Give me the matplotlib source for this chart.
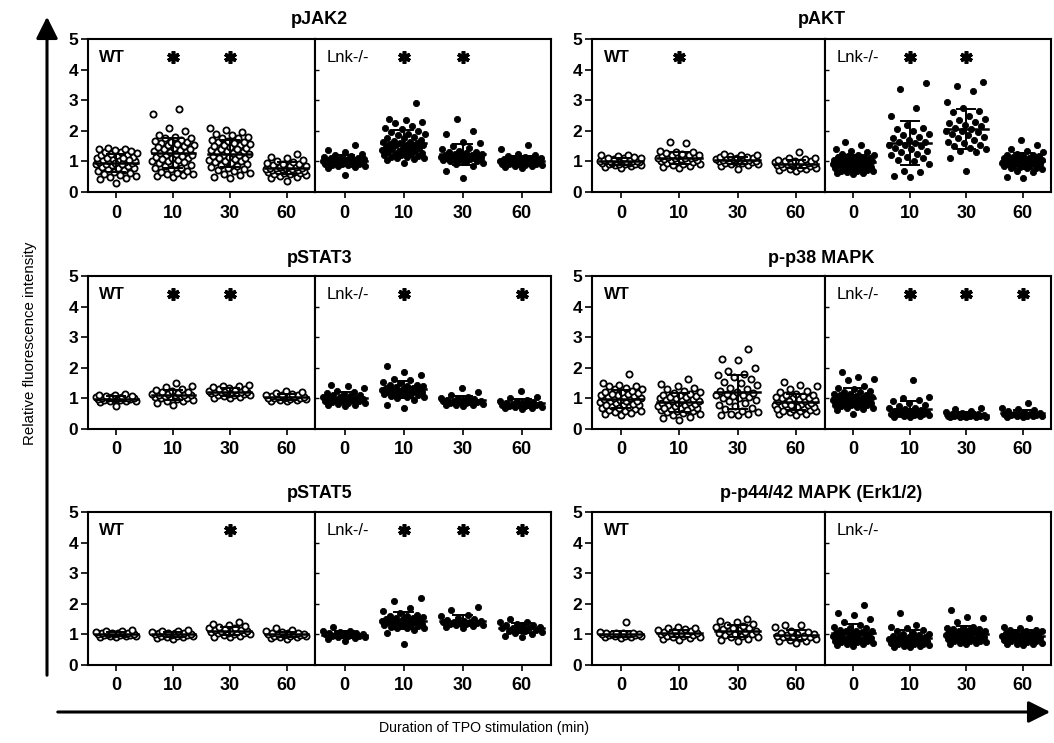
import numpy as np
import matplotlib
matplotlib.use("Agg")
import matplotlib.pyplot as plt
from matplotlib import font_manager
from matplotlib.patches import FancyArrowPatch

# ---------------- data ----------------
times = ["0", "10", "30", "60"]
genotypes = ["WT", "Lnk-/-"]
panel_titles = ["pJAK2", "pAKT", "pSTAT3", "p-p38 MAPK", "pSTAT5",
                "p-p44/42 MAPK (Erk1/2)"]

jak2_wt = [
    [0.30,0.42,0.45,0.48,0.52,0.55,0.60,0.62,0.66,0.70,0.72,0.75,0.78,0.80,0.83,0.85,0.88,0.90,0.92,0.95,0.97,1.00,1.02,1.05,1.08,1.10,1.12,1.15,1.18,1.20,1.22,1.25,1.28,1.30,1.32,1.35,1.38,1.40,1.42,1.45,1.02,0.98,1.05,0.95,1.10,0.90],
    [0.50,0.52,0.55,0.58,0.62,0.70,0.75,0.80,0.85,0.90,0.95,1.00,1.02,1.05,1.10,1.12,1.15,1.20,1.22,1.25,1.28,1.30,1.32,1.35,1.38,1.40,1.45,1.50,1.52,1.55,1.60,1.62,1.65,1.70,1.75,1.80,1.85,2.00,2.10,2.55,2.70,0.60,0.65,0.78,0.88,0.98,1.08,1.18,1.42,1.48,1.58,1.68,1.78],
    [0.45,0.48,0.55,0.62,0.68,0.72,0.78,0.82,0.88,0.92,0.95,1.00,1.02,1.05,1.08,1.12,1.15,1.18,1.22,1.25,1.28,1.30,1.32,1.35,1.38,1.42,1.45,1.48,1.52,1.55,1.58,1.62,1.65,1.70,1.75,1.80,1.85,1.90,1.95,2.02,2.10,0.58,0.75,0.85,0.98,1.10,1.20,1.40,1.50,1.60,1.68,1.78],
    [0.35,0.45,0.50,0.52,0.55,0.58,0.60,0.62,0.62,0.65,0.65,0.68,0.70,0.70,0.72,0.72,0.75,0.75,0.75,0.78,0.78,0.80,0.80,0.82,0.82,0.85,0.85,0.88,0.90,0.92,0.95,0.98,1.00,1.05,1.10,1.15,1.25],
]
jak2_ko = [
    [0.55,0.80,0.82,0.85,0.85,0.88,0.88,0.90,0.90,0.92,0.92,0.95,0.95,0.95,0.98,0.98,1.00,1.00,1.00,1.00,1.02,1.02,1.05,1.05,1.05,1.08,1.08,1.10,1.10,1.12,1.15,1.18,1.20,1.25,1.30,1.38,1.55],
    [0.95,1.05,1.10,1.12,1.15,1.18,1.20,1.22,1.25,1.28,1.30,1.32,1.35,1.38,1.40,1.42,1.45,1.48,1.50,1.52,1.55,1.58,1.60,1.62,1.65,1.70,1.75,1.80,1.85,1.90,1.95,2.00,2.05,2.15,2.25,2.30,2.35,2.40,2.90,1.08,1.15,1.25,1.35,1.45,1.52,1.60,1.68,1.78,1.88,2.10],
    [0.45,0.70,0.85,0.90,0.95,0.98,1.00,1.02,1.05,1.05,1.08,1.08,1.10,1.10,1.12,1.12,1.15,1.15,1.18,1.18,1.20,1.20,1.22,1.22,1.25,1.25,1.28,1.30,1.32,1.35,1.40,1.45,1.50,1.60,1.65,1.90,2.00,2.40],
    [0.80,0.82,0.85,0.85,0.88,0.88,0.90,0.90,0.92,0.92,0.95,0.95,0.98,0.98,1.00,1.00,1.00,1.02,1.02,1.05,1.05,1.08,1.08,1.10,1.10,1.12,1.15,1.18,1.20,1.25,1.40,1.55],
]
akt_wt = [
    [0.80,0.82,0.85,0.88,0.88,0.90,0.90,0.92,0.92,0.95,0.95,0.95,0.98,0.98,1.00,1.00,1.00,1.00,1.02,1.02,1.02,1.05,1.05,1.08,1.08,1.10,1.10,1.12,1.15,1.18,1.20,1.22],
    [0.80,0.82,0.85,0.88,0.90,0.92,0.95,0.98,1.00,1.00,1.02,1.05,1.05,1.08,1.08,1.10,1.10,1.12,1.12,1.15,1.15,1.18,1.18,1.20,1.20,1.22,1.25,1.28,1.30,1.32,1.35,1.60,1.65],
    [0.75,0.85,0.88,0.90,0.92,0.95,0.95,0.98,0.98,1.00,1.00,1.02,1.02,1.05,1.05,1.05,1.08,1.08,1.10,1.10,1.12,1.12,1.15,1.15,1.18,1.20,1.22,1.25],
    [0.70,0.72,0.75,0.75,0.78,0.80,0.82,0.85,0.85,0.88,0.88,0.90,0.90,0.92,0.92,0.95,0.95,0.98,0.98,1.00,1.00,1.02,1.05,1.08,1.10,1.12,1.30],
]
akt_ko = [
    [0.60,0.62,0.65,0.68,0.70,0.72,0.75,0.78,0.80,0.82,0.85,0.88,0.90,0.90,0.92,0.95,0.95,0.98,1.00,1.00,1.02,1.05,1.05,1.08,1.10,1.12,1.15,1.18,1.20,1.22,1.25,1.30,1.35,1.40,1.52,1.62,0.70,0.80,0.88,0.95,1.00,1.08,1.15,0.62,0.92,1.02],
    [0.50,0.52,0.65,0.70,0.90,1.00,1.05,1.10,1.15,1.20,1.25,1.30,1.35,1.40,1.45,1.50,1.52,1.55,1.60,1.62,1.65,1.70,1.75,1.80,1.85,1.90,2.00,2.05,2.10,2.20,2.50,2.75,3.35,3.55],
    [0.70,1.10,1.30,1.35,1.40,1.45,1.50,1.55,1.60,1.65,1.70,1.75,1.80,1.85,1.90,1.95,2.00,2.00,2.05,2.10,2.15,2.20,2.25,2.30,2.35,2.40,2.50,2.60,2.65,2.75,2.95,3.30,3.45,3.60],
    [0.45,0.48,0.65,0.70,0.75,0.78,0.80,0.82,0.85,0.88,0.90,0.92,0.95,0.95,0.98,1.00,1.00,1.02,1.05,1.05,1.08,1.10,1.12,1.15,1.18,1.20,1.22,1.25,1.30,1.35,1.40,1.55,1.70,0.80,0.88,0.95,1.00,1.05,1.10,1.18,0.92,1.00,1.12],
]
stat3_wt = [
    [0.75,0.88,0.90,0.92,0.92,0.95,0.95,0.97,0.97,0.98,1.00,1.00,1.00,1.00,1.02,1.02,1.03,1.05,1.05,1.07,1.08,1.10,1.12,1.15],
    [0.80,0.85,0.90,0.92,0.95,0.98,1.00,1.02,1.05,1.05,1.08,1.08,1.10,1.10,1.12,1.12,1.15,1.15,1.18,1.20,1.22,1.25,1.28,1.32,1.38,1.42,1.50],
    [1.00,1.02,1.05,1.08,1.10,1.12,1.12,1.15,1.15,1.18,1.18,1.20,1.20,1.20,1.22,1.22,1.25,1.25,1.28,1.30,1.32,1.35,1.38,1.40,1.42,1.45],
    [0.90,0.92,0.95,0.95,0.98,0.98,1.00,1.00,1.02,1.02,1.05,1.05,1.05,1.08,1.08,1.10,1.10,1.12,1.15,1.18,1.20,1.25],
]
stat3_ko = [
    [0.75,0.78,0.80,0.82,0.85,0.85,0.88,0.90,0.90,0.92,0.95,0.95,0.98,1.00,1.00,1.02,1.05,1.05,1.08,1.10,1.12,1.15,1.18,1.20,1.25,1.35,1.40,1.45],
    [0.70,0.80,0.95,1.00,1.05,1.08,1.10,1.12,1.15,1.18,1.20,1.22,1.25,1.28,1.30,1.30,1.32,1.35,1.38,1.40,1.42,1.45,1.50,1.55,1.60,1.65,1.75,1.85,2.05,1.05,1.15,1.25,1.35,1.45,1.20,1.30],
    [0.75,0.78,0.80,0.80,0.82,0.85,0.85,0.88,0.88,0.90,0.90,0.92,0.92,0.95,0.95,0.98,1.00,1.02,1.05,1.10,1.20,1.35],
    [0.65,0.68,0.70,0.72,0.72,0.75,0.75,0.78,0.78,0.80,0.80,0.82,0.82,0.85,0.85,0.88,0.90,0.92,0.95,1.00,1.05,1.25],
]
p38_wt = [
    [0.45,0.48,0.55,0.60,0.62,0.65,0.70,0.72,0.75,0.78,0.80,0.82,0.85,0.88,0.90,0.92,0.95,0.98,1.00,1.00,1.02,1.05,1.08,1.10,1.12,1.15,1.18,1.20,1.25,1.30,1.35,1.40,1.45,1.50,1.80,0.52,0.68,0.80,0.92,1.05,1.15,1.22,1.32,1.42,0.58],
    [0.30,0.35,0.45,0.50,0.55,0.58,0.60,0.62,0.65,0.68,0.70,0.72,0.75,0.78,0.80,0.82,0.85,0.88,0.90,0.92,0.95,0.98,1.00,1.02,1.05,1.08,1.10,1.12,1.15,1.20,1.25,1.30,1.40,1.48,1.65,0.40,0.52,0.62,0.75,0.85,0.95,1.05,1.18,1.35,0.70],
    [0.45,0.45,0.48,0.50,0.55,0.60,0.65,0.70,0.75,0.80,0.85,0.90,0.95,1.00,1.02,1.05,1.08,1.10,1.12,1.15,1.18,1.20,1.25,1.30,1.35,1.45,1.50,1.55,1.65,1.70,1.75,1.80,1.90,2.00,2.25,2.28,2.60],
    [0.45,0.50,0.55,0.58,0.60,0.62,0.65,0.68,0.70,0.72,0.75,0.78,0.80,0.82,0.85,0.88,0.90,0.92,0.95,0.98,1.00,1.02,1.05,1.08,1.10,1.15,1.20,1.30,1.40,1.45,1.55,0.48,0.60,0.72,0.82,0.92,1.00,1.12,1.25,0.65,0.78],
]
p38_ko = [
    [0.50,0.62,0.65,0.70,0.72,0.75,0.78,0.80,0.82,0.85,0.88,0.90,0.92,0.95,0.98,1.00,1.00,1.02,1.05,1.08,1.10,1.12,1.15,1.20,1.25,1.30,1.40,1.60,1.65,1.70,1.85,0.68,0.78,0.88,0.95,1.05,1.15,1.22,1.35,0.85,1.00],
    [0.40,0.40,0.42,0.42,0.45,0.45,0.48,0.48,0.50,0.50,0.52,0.55,0.55,0.58,0.60,0.62,0.65,0.68,0.70,0.75,0.80,0.85,0.90,0.95,1.00,1.05,1.60],
    [0.38,0.38,0.40,0.40,0.40,0.42,0.42,0.42,0.44,0.44,0.45,0.45,0.46,0.48,0.48,0.50,0.52,0.55,0.60,0.65,0.70],
    [0.40,0.40,0.42,0.42,0.44,0.44,0.45,0.45,0.46,0.48,0.48,0.50,0.52,0.55,0.58,0.62,0.65,0.70,0.85],
]
stat5_wt = [
    [0.90,0.92,0.94,0.95,0.96,0.97,0.98,0.98,1.00,1.00,1.00,1.01,1.02,1.03,1.04,1.05,1.06,1.08,1.10,1.12,1.15],
    [0.85,0.88,0.90,0.92,0.94,0.95,0.96,0.98,0.98,1.00,1.00,1.01,1.02,1.03,1.04,1.05,1.06,1.08,1.10,1.12,1.15],
    [0.90,0.92,0.95,0.98,1.00,1.02,1.04,1.05,1.06,1.08,1.08,1.10,1.10,1.12,1.14,1.15,1.18,1.20,1.22,1.25,1.28,1.30,1.35,1.40],
    [0.85,0.88,0.90,0.92,0.94,0.95,0.96,0.98,0.98,1.00,1.00,1.01,1.02,1.03,1.05,1.06,1.08,1.10,1.15,1.20],
]
stat5_ko = [
    [0.80,0.85,0.88,0.90,0.92,0.94,0.95,0.96,0.98,1.00,1.00,1.00,1.02,1.03,1.05,1.06,1.08,1.10,1.12,1.25],
    [0.70,1.05,1.15,1.20,1.22,1.25,1.28,1.30,1.32,1.35,1.38,1.40,1.42,1.45,1.45,1.48,1.50,1.52,1.55,1.58,1.60,1.65,1.70,1.75,1.85,2.10,2.20,1.20,1.30,1.40,1.50,1.60,1.35,1.45],
    [1.22,1.25,1.28,1.30,1.32,1.33,1.35,1.36,1.38,1.40,1.40,1.42,1.43,1.45,1.48,1.50,1.55,1.60,1.65,1.80,1.90],
    [0.90,0.95,1.00,1.05,1.08,1.10,1.12,1.15,1.18,1.20,1.20,1.22,1.25,1.28,1.30,1.32,1.35,1.40,1.42,1.50],
]
erk_wt = [
    [0.88,0.90,0.92,0.94,0.95,0.96,0.98,0.98,1.00,1.00,1.00,1.01,1.02,1.03,1.04,1.05,1.06,1.08,1.40],
    [0.82,0.85,0.88,0.90,0.92,0.94,0.96,0.98,1.00,1.00,1.02,1.04,1.05,1.06,1.08,1.10,1.12,1.15,1.18,1.20,1.22,1.25],
    [0.78,0.82,0.85,0.90,0.92,0.95,0.98,1.00,1.02,1.05,1.08,1.10,1.12,1.15,1.18,1.20,1.22,1.25,1.28,1.30,1.35,1.40,1.45,1.50],
    [0.72,0.78,0.80,0.82,0.85,0.88,0.90,0.92,0.94,0.95,0.96,0.98,1.00,1.02,1.05,1.08,1.12,1.25,1.30,1.30],
]
erk_ko = [
    [0.62,0.65,0.70,0.72,0.75,0.78,0.80,0.82,0.85,0.88,0.90,0.92,0.95,0.98,1.00,1.02,1.05,1.08,1.10,1.12,1.15,1.20,1.25,1.30,1.40,1.50,1.65,1.70,1.95,0.70,0.80,0.90,1.00,1.10,1.20,0.75,0.95],
    [0.58,0.60,0.62,0.65,0.68,0.70,0.72,0.75,0.78,0.80,0.82,0.85,0.88,0.90,0.92,0.95,0.98,1.00,1.05,1.10,1.15,1.20,1.25,1.30,1.70,0.62,0.68,0.75,0.82,0.90,1.00,0.70,0.85],
    [0.68,0.70,0.72,0.75,0.78,0.80,0.82,0.85,0.88,0.90,0.92,0.95,0.98,1.00,1.02,1.05,1.08,1.10,1.12,1.15,1.18,1.20,1.22,1.25,1.40,1.55,1.58,1.80,0.72,0.80,0.90,1.00,1.10,1.18,0.85,0.95],
    [0.65,0.68,0.70,0.72,0.75,0.78,0.80,0.82,0.85,0.88,0.90,0.92,0.95,0.98,1.00,1.02,1.05,1.08,1.10,1.12,1.15,1.20,1.25,1.55,0.70,0.78,0.88,0.95,1.05,1.15,0.82,1.00],
]

# significance flags (1 = asterisk) per time point
jak2_stars = [[0, 1, 1, 0], [0, 1, 1, 0]]
akt_stars = [[0, 1, 0, 0], [0, 1, 1, 0]]
stat3_stars = [[0, 1, 1, 0], [0, 1, 0, 1]]
p38_stars = [[0, 0, 0, 0], [0, 1, 1, 1]]
stat5_stars = [[0, 0, 1, 0], [0, 1, 1, 1]]
erk_stars = [[0, 0, 0, 0], [0, 0, 0, 0]]

panels = [
    (jak2_wt, jak2_ko, jak2_stars),
    (akt_wt, akt_ko, akt_stars),
    (stat3_wt, stat3_ko, stat3_stars),
    (p38_wt, p38_ko, p38_stars),
    (stat5_wt, stat5_ko, stat5_stars),
    (erk_wt, erk_ko, erk_stars),
]

# ---------------- style ----------------
W, H = 1054, 743
fig = plt.figure(figsize=(W / 100, H / 100), dpi=100)
fig.patch.set_facecolor("white")

names = {f.name for f in font_manager.fontManager.ttflist}
MAIN = "Liberation Sans" if "Liberation Sans" in names else "DejaVu Sans"
plt.rcParams["font.family"] = [MAIN, "DejaVu Sans"]

rows_px = [(39, 192), (276, 429), (512, 665)]
cols_px = [((88, 315), (315, 551)), ((592, 825), (825, 1051))]
title_y_px = [20, 258, 493]


def px_rect(x0, x1, y0, y1):
    return [x0 / W, 1 - y1 / H, (x1 - x0) / W, (y1 - y0) / H]


def jitter_offsets(vals, half=0.37):
    # deterministic low-discrepancy spread over the column width, by rank
    vals = np.asarray(vals, dtype=float)
    order = np.argsort(vals, kind="stable")
    offs = np.zeros(len(vals))
    phi = 0.6180339887
    for rank, idx in enumerate(order):
        offs[idx] = (((rank * phi) + 0.5) % 1.0 - 0.5) * 2 * half
    return offs


LW = 1.5
for p, (wt, ko, stars) in enumerate(panels):
    r, c = divmod(p, 2)
    y0, y1 = rows_px[r]
    for g, groups in enumerate([wt, ko]):
        (x0, x1) = cols_px[c][g]
        ax = fig.add_axes(px_rect(x0, x1, y0, y1))
        ax.set_xlim(-0.5, 3.5)
        ax.set_ylim(0, 5)
        for s in ax.spines.values():
            s.set_linewidth(LW)
            s.set_color("black")
        ax.set_xticks(range(4))
        ax.set_xticklabels(times, fontsize=13, fontweight="bold")
        ax.tick_params(axis="x", length=4, width=1.2, pad=5)
        ax.set_yticks(range(6))
        if g == 0:
            ax.set_yticklabels([str(v) for v in range(6)], fontsize=12.5,
                               fontweight="bold")
            ax.tick_params(axis="y", length=5, width=1.2, pad=2)
        else:
            ax.set_yticks(range(1, 5))
            ax.set_yticklabels([])
            ax.tick_params(axis="y", direction="in", length=3, width=1.0)
        for i, vals in enumerate(groups):
            vals = np.asarray(vals)
            xo = i + jitter_offsets(vals)
            if g == 0:
                ax.scatter(xo, vals, s=20, facecolor="white", edgecolor="black",
                           linewidth=1.3, zorder=2)
            else:
                ax.scatter(xo, vals, s=20, facecolor="black", edgecolor="black",
                           linewidth=0.6, zorder=2)
            m = vals.mean()
            sd = vals.std(ddof=1)
            ax.plot([i - 0.38, i + 0.38], [m, m], color="black", lw=1.8, zorder=3)
            ax.plot([i, i], [m - sd, m + sd], color="black", lw=1.4, zorder=3)
            for yy in (m - sd, m + sd):
                ax.plot([i - 0.16, i + 0.16], [yy, yy], color="black", lw=1.4,
                        zorder=3)
            if stars[g][i]:
                ax.plot([i], [4.4], marker=(6, 2, 0), markersize=9, mew=2.6,
                        color="black", zorder=4)
                ax.plot([i], [4.4], marker="o", markersize=4.5, color="black",
                        zorder=4)
        if g == 0:
            ax.text(-0.3, 4.4, genotypes[0], fontsize=12, fontweight="bold",
                    ha="left", va="center")
        else:
            ax.text(-0.3, 4.4, genotypes[1], fontsize=12, ha="left",
                    va="center")
    xc = (cols_px[c][0][0] + cols_px[c][1][1]) / 2
    fig.text(xc / W, 1 - title_y_px[r] / H, panel_titles[p], fontsize=13,
             fontweight="bold", ha="center", va="center")

# global arrows and axis labels
va = FancyArrowPatch((47 / W, 1 - 678 / H), (47 / W, 1 - 14 / H),
                     transform=fig.transFigure,
                     arrowstyle="-|>,head_length=6,head_width=3",
                     mutation_scale=2.2, lw=2.2, color="black")
fig.patches.append(va)
ha_ = FancyArrowPatch((55 / W, 1 - 712 / H), (1053 / W, 1 - 712 / H),
                      transform=fig.transFigure,
                      arrowstyle="-|>,head_length=6,head_width=3",
                      mutation_scale=2.2, lw=2.2, color="black")
fig.patches.append(ha_)

fig.text(30 / W, 1 - 343 / H, "Relative fluorescence intensity", rotation=90,
         fontsize=10.8, ha="center", va="center")
fig.text(484 / W, 1 - 728 / H, "Duration of TPO stimulation (min)",
         fontsize=10.2, ha="center", va="center")

fig.savefig("out.png", dpi=100, facecolor="white")
